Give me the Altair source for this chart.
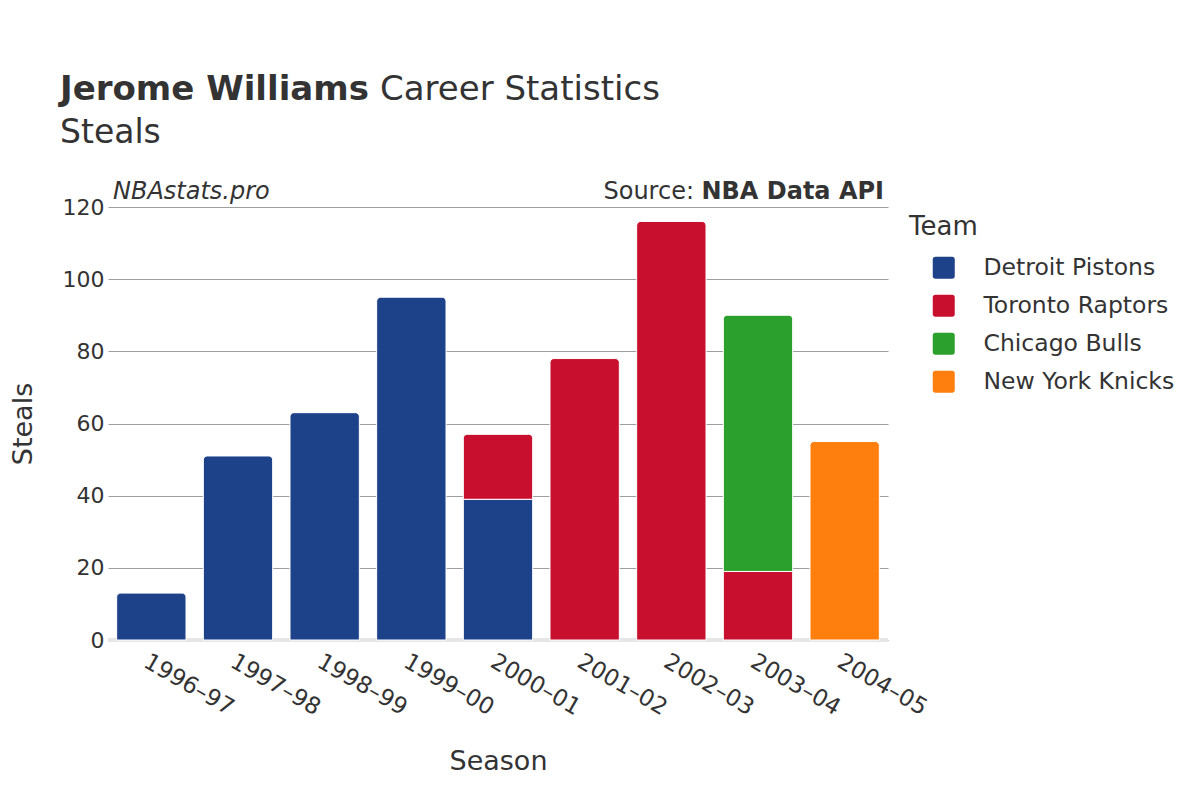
import altair as alt
import pandas as pd

# ---- data ----
seasons = ["1996–97", "1997–98", "1998–99", "1999–00", "2000–01",
           "2001–02", "2002–03", "2003–04", "2004–05"]
teams = ["Detroit Pistons", "Toronto Raptors", "Chicago Bulls", "New York Knicks"]
team_colors = ["#1d428a", "#c8102e", "#2ca02c", "#ff7f0e"]

row_season = ["1996–97", "1997–98", "1998–99", "1999–00", "2000–01", "2000–01",
              "2001–02", "2002–03", "2003–04", "2003–04", "2004–05"]
row_team = ["Detroit Pistons", "Detroit Pistons", "Detroit Pistons", "Detroit Pistons",
            "Detroit Pistons", "Toronto Raptors", "Toronto Raptors", "Toronto Raptors",
            "Toronto Raptors", "Chicago Bulls", "New York Knicks"]
row_steals = [13, 51, 63, 95, 39, 18, 78, 116, 19, 71, 55]

y_ticks = [0, 20, 40, 60, 80, 100, 120]

# ---- build stacked table ----
df = pd.DataFrame({"Season": row_season, "Team": row_team, "Steals": row_steals})
df["order"] = df["Team"].map({t: i for i, t in enumerate(teams)})
df = df.sort_values(["Season", "order"]).reset_index(drop=True)
df["y1"] = df.groupby("Season")["Steals"].cumsum()
df["y0"] = df["y1"] - df["Steals"]
df["top"] = df.groupby("Season")["order"].transform("max") == df["order"]

FONT = "DejaVu Sans"
TXT = "#333333"
W, H = 780, 433

x_enc = alt.X("Season:N", sort=seasons,
              scale=alt.Scale(domain=seasons, paddingInner=0.2, paddingOuter=0.1),
              axis=alt.Axis(title="Season", labelAngle=30, labelFontSize=23,
                            labelColor=TXT, titleFontSize=27, titleColor=TXT,
                            titleFontWeight="normal", ticks=False, domain=False,
                            labelPadding=10, titlePadding=29, titleFont=FONT,
                            labelFont=FONT, grid=False))
y_enc = alt.Y("y1:Q",
              scale=alt.Scale(domain=[0, 120], nice=False),
              axis=alt.Axis(title="Steals", values=y_ticks, labelFontSize=22,
                            labelColor=TXT, titleFontSize=27, titleColor=TXT,
                            titleFontWeight="normal", ticks=False, domain=False,
                            gridColor="#9e9e9e", gridWidth=1, labelPadding=4,
                            titlePadding=25, titleFont=FONT, labelFont=FONT))
color_enc = alt.Color("Team:N",
                      scale=alt.Scale(domain=teams, range=team_colors),
                      legend=alt.Legend(
                          title="Team", orient="none", legendX=801, legendY=7,
                          titleFontSize=26, titleFontWeight="normal",
                          titleColor=TXT, labelFontSize=23.5, labelColor=TXT,
                          titleFont=FONT, labelFont=FONT, labelLimit=400,
                          symbolType="M -0.75,-1 L 0.75,-1 Q 1,-1 1,-0.75 L 1,0.75 Q 1,1 0.75,1 L -0.75,1 Q -1,1 -1,0.75 L -1,-0.75 Q -1,-1 -0.75,-1 Z",
                          symbolSize=484, symbolStrokeWidth=0, symbolOpacity=1,
                          symbolOffset=23, labelOffset=28, rowPadding=13,
                          titlePadding=16, padding=0))

base = alt.Chart(df)

zero = alt.Chart(pd.DataFrame({"v": [0]})).mark_rule(
    color="#e6e6e6", strokeWidth=4).encode(
    y=alt.Y("v:Q"), x=alt.value(0), x2=alt.value(W))

bars_low = base.transform_filter("!datum.top").mark_bar(
    stroke="white", strokeWidth=1).encode(
    x=x_enc, y=y_enc, y2="y0:Q", color=color_enc)
bars_top = base.transform_filter("datum.top").mark_bar(
    stroke="white", strokeWidth=1, cornerRadiusTopLeft=4,
    cornerRadiusTopRight=4).encode(
    x=x_enc, y=y_enc, y2="y0:Q", color=color_enc)

def txt(text, x, y, size, weight="normal", style="normal", align="left"):
    return alt.Chart(pd.DataFrame({"t": [text]})).mark_text(
        font=FONT, fontSize=size, fontWeight=weight, fontStyle=style,
        color=TXT, align=align, baseline="alphabetic").encode(
        text="t:N", x=alt.value(x), y=alt.value(y))

title1 = txt("Jerome Williams", -48, -107, 34, weight="bold")
title2 = txt("Career Statistics", 272, -107, 34)
subtitle = txt("Steals", -48, -64, 33)
credit = txt("NBAstats.pro", 5, -8, 24, style="italic")
src1 = txt("Source:", 586, -8, 24, align="right")
src2 = txt("NBA Data API", 776, -8, 24, weight="bold", align="right")

chart = alt.layer(zero, bars_low, bars_top, title1, title2, subtitle,
                  credit, src1, src2).properties(
    width=W, height=H,
    autosize=alt.AutoSizeParams(type="none"),
    padding={"left": 100, "top": 199, "right": 304, "bottom": 152},
).configure(font=FONT).configure_view(
    strokeWidth=0, stroke="transparent").configure_axis(domain=False)

chart.save("out.html", embed_options={"renderer": "svg", "actions": False})
